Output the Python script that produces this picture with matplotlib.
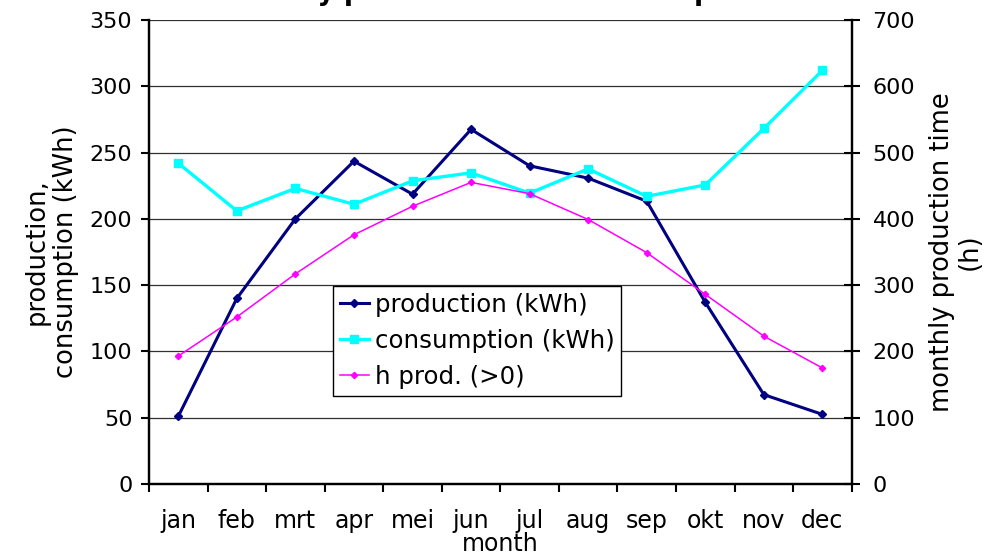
import matplotlib
matplotlib.use("Agg")
import matplotlib.pyplot as plt
import numpy as np

months = ['jan', 'feb', 'mrt', 'apr', 'mei', 'jun', 'jul', 'aug', 'sep', 'okt', 'nov', 'dec']
production = [51, 140, 200, 243.5, 218.6, 267.5, 240, 230.7, 213.3, 137, 67.4, 52.5]
consumption = [242, 206, 223, 211, 228.7, 234.7, 219.4, 237.7, 217, 225.6, 268.2, 312]
h_prod = [193, 252, 317, 376, 419, 455, 438, 399, 349, 286, 223, 175]

left_ticks = [0, 50, 100, 150, 200, 250, 300, 350]
right_ticks = [0, 100, 200, 300, 400, 500, 600, 700]

plt.rcParams['font.family'] = ['DejaVu Sans']

W, H = 985, 557
fig = plt.figure(figsize=(W / 100, H / 100), dpi=100)
ax = fig.add_axes([149 / W, 73 / H, (851.7 - 149) / W, (484 - 20) / H])
ax2 = ax.twinx()

x = np.arange(len(months))

l1, = ax.plot(x, production, color='#000080', lw=2.2, marker='D', ms=3.8,
              label='production (kWh)', zorder=3)
l2, = ax.plot(x, consumption, color='#00FFFF', lw=2.4, marker='s', ms=5.5,
              label='consumption (kWh)', zorder=3)
l3, = ax2.plot(x, h_prod, color='#FF00FF', lw=1.1, marker='D', ms=3.2,
               label='h prod. (>0)', zorder=3)

ax.set_xlim(-0.5, len(months) - 0.5)
ax.set_ylim(0, 350)
ax2.set_ylim(0, 700)
ax.set_yticks(left_ticks)
ax2.set_yticks(right_ticks)

ax.set_xticks(np.arange(len(months) + 1) - 0.5)
ax.set_xticklabels([])
ax.set_xticks(x, minor=True)
ax.set_xticklabels(months, minor=True)
ax.tick_params(axis='x', which='minor', length=0, pad=18, labelsize=17)
ax.tick_params(axis='x', which='major', direction='out', length=6, width=1.5)

ax.tick_params(axis='y', direction='out', length=6, width=1.5, labelsize=16, pad=6)
ax2.tick_params(axis='y', direction='inout', length=12, width=1.5, labelsize=16, pad=9)

ax.grid(axis='y', color='#303030', lw=0.9)
ax.set_axisbelow(True)

for a in (ax, ax2):
    a.spines['top'].set_visible(False)
    for s in ('left', 'right', 'bottom'):
        a.spines[s].set_linewidth(1.6)
        a.spines[s].set_color('black')

ax.set_ylabel('production,\nconsumption (kWh)', fontsize=18.5, labelpad=8, linespacing=1.15)
ax2.set_ylabel('monthly production time\n(h)', fontsize=18.5, labelpad=10, linespacing=1.1)
ax.set_xlabel('month', fontsize=17)
ax.xaxis.set_label_coords(0.5, (484 - 532) / 464)

fig.text(0.5, 1.0, 'Monthly production and consumption', ha='center', va='baseline',
         fontsize=19, fontweight='bold')

leg = ax2.legend(handles=[l1, l2, l3], loc='upper left',
                 bbox_to_anchor=((333 - 149) / (851.7 - 149), (484 - 286) / 464),
                 borderaxespad=0, fontsize=17.6, frameon=True, fancybox=False,
                 edgecolor='black', handlelength=1.2, handletextpad=0.25,
                 borderpad=0.27, labelspacing=0.5)
leg.get_frame().set_linewidth(1.0)
leg.get_frame().set_alpha(1)

fig.savefig('out.png', dpi=100)
